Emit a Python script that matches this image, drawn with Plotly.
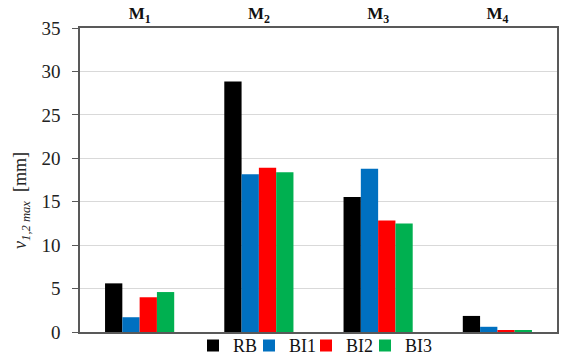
import plotly.graph_objects as go

categories = ['<b>M<sub>1</sub></b>', '<b>M<sub>2</sub></b>', '<b>M<sub>3</sub></b>', '<b>M<sub>4</sub></b>']
rb = [5.6, 28.85, 15.55, 1.85]
bi1 = [1.7, 18.15, 18.8, 0.6]
bi2 = [4.0, 18.9, 12.85, 0.2]
bi3 = [4.6, 18.4, 12.5, 0.2]

series = [('RB', rb, '#000000'), ('BI1', bi1, '#0070C0'),
          ('BI2', bi2, '#FF0000'), ('BI3', bi3, '#00B050')]
# left edge (in window pixels) of each legend entry, Excel-style evenly spread row
legend_left = [193, 249, 306, 365]

serif = 'Liberation Serif'
W, H = 561, 358

fig = go.Figure()
legends = {}
for i, (name, vals, color) in enumerate(series):
    lg = 'legend' if i == 0 else f'legend{i + 1}'
    fig.add_trace(go.Bar(x=categories, y=vals, name=name, legend=lg,
                         marker=dict(color=color, line=dict(width=0))))
    legends[lg] = dict(orientation='h', x=legend_left[i] / W, xanchor='left', xref='container',
                       y=0.086, yanchor='top', yref='container',
                       font=dict(family=serif, size=18, color='#111111'), itemwidth=30,
                       bgcolor='rgba(0,0,0,0)')

fig.update_layout(
    width=W, height=H,
    margin=dict(l=80, r=4, t=28, b=26, autoexpand=False),
    paper_bgcolor='white', plot_bgcolor='white',
    font=dict(family=serif, size=16, color='#222222'),
    barmode='group', bargap=0.42, bargroupgap=0,
    showlegend=True,
    # y title as a rotated annotation so it can sit a bit below the plot centre, like the original
    annotations=[dict(text='<i>v<sub>1,2 max</sub></i>\u00a0\u00a0[mm]', textangle=-90,
                      xref='paper', yref='paper', x=-0.124, y=0.434,
                      xanchor='center', yanchor='middle', showarrow=False,
                      font=dict(family=serif, size=18, color='#222222'))],
    **legends,
)
fig.update_xaxes(side='top', showline=True, linecolor='#595959', linewidth=1.5, mirror=True,
                 ticks='', tickfont=dict(family=serif, size=17, color='#111111'), showgrid=False,
                 automargin=False)
fig.update_yaxes(range=[0, 35], dtick=5, showline=True, linecolor='#595959', linewidth=1.5,
                 mirror=True, ticks='outside', ticklen=6, tickcolor='#595959',
                 ticklabelstandoff=8,
                 gridcolor='#D9D9D9', gridwidth=1, zeroline=False, automargin=False,
                 tickfont=dict(family=serif, size=19, color='#222222'))

# page has a default body margin; drop it so the figure sits at the window's corner
fig.write_html('out.html', config={'displayModeBar': False},
               post_script="document.body.style.margin='0';document.body.style.overflow='hidden';")
